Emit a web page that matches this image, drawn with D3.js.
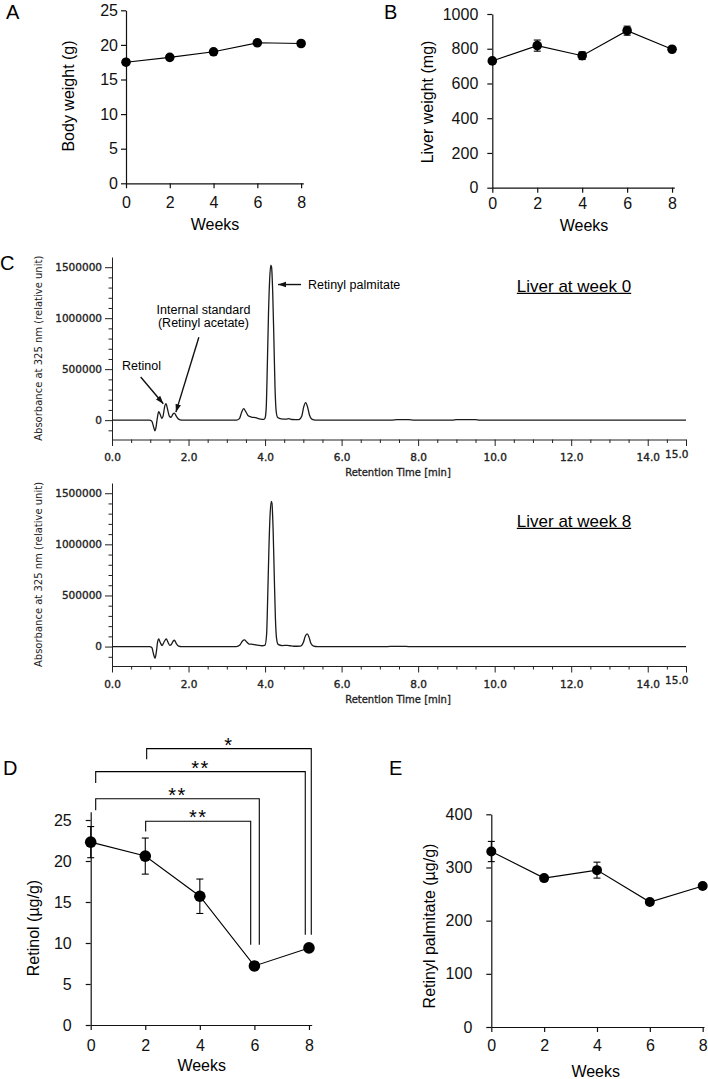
<!DOCTYPE html>
<meta charset="utf-8">
<script src="https://d3js.org/d3.v7.min.js"></script>
<style>
  body { margin: 0; background: #fff; }
  svg { display: block; }
</style>
<div id="figure"></div>
<script>
// ---- values ----
const weeks = [0, 2, 4, 6, 8];

const bodyWeight   = [17.5, 18.2, 19.0, 20.3, 20.2];
const bodyWeightSd = [0.3, 0.3, 0.3, 0.3, 0.3];
const liverWeight   = [730, 818, 760, 904, 797];
const liverWeightSd = [10, 32, 22, 26, 8];
const retinol   = [22.3, 20.6, 15.7, 7.2, 9.4];
const retinolSd = [1.9, 2.2, 2.1, 0.5, 0.2];
const palmitate   = [330, 280, 295, 235, 265];
const palmitateSd = [19, 5, 15, 4, 3];

const bodyTicks = [0, 5, 10, 15, 20, 25];
const liverTicks = [0, 200, 400, 600, 800, 1000];
const retinolTicks = [0, 5, 10, 15, 20, 25];
const palmitateTicks = [0, 100, 200, 300, 400];

// significance brackets in D
const sigFrom  = [2, 0, 0, 2];
const sigTo    = [6, 6, 8, 8];
const sigLabel = ["**", "**", "**", "*"];

// HPLC traces: [retention time (min), absorbance]
const chromWeek0 = [
  [0, 0], [0.98, 0], [1.04, -10000], [1.09, -70000], [1.12, -105000], [1.15, -70000],
  [1.18, 10000], [1.22, 82000], [1.26, 55000], [1.30, 18000], [1.34, 50000], [1.38, 140000],
  [1.41, 162000], [1.45, 110000], [1.50, 38000], [1.54, 28000], [1.59, 58000], [1.63, 68000],
  [1.68, 40000], [1.74, 10000], [1.82, 0], [3.25, 0], [3.33, 15000], [3.39, 80000],
  [3.44, 112000], [3.50, 80000], [3.56, 42000], [3.64, 30000], [3.75, 25000], [3.88, 10000],
  [3.97, 8000], [4.00, 20000], [4.03, 120000], [4.06, 550000], [4.09, 1050000], [4.12, 1380000],
  [4.15, 1520000], [4.17, 1500000], [4.20, 1250000], [4.23, 800000], [4.26, 320000], [4.29, 90000],
  [4.33, 25000], [4.42, 12000], [4.55, 10000], [4.62, 14000], [4.70, 6000], [4.88, 4000],
  [4.96, 40000], [5.01, 130000], [5.06, 172000], [5.11, 130000], [5.16, 50000], [5.22, 10000],
  [5.32, 0], [7.30, 0], [7.45, 4000], [7.75, 4000], [7.90, 0], [8.90, 0], [9.00, 4000],
  [9.50, 4000], [9.60, 0], [15.0, 0]
];
const chromWeek8 = [
  [0, 0], [0.98, 0], [1.04, -10000], [1.09, -80000], [1.125, -115000], [1.16, -50000],
  [1.19, 40000], [1.22, 75000], [1.26, 40000], [1.31, 10000], [1.36, 45000], [1.42, 75000],
  [1.46, 45000], [1.51, 12000], [1.55, 20000], [1.60, 55000], [1.63, 62000], [1.68, 30000],
  [1.74, 5000], [1.82, 0], [3.25, 0], [3.34, 15000], [3.41, 55000], [3.46, 65000],
  [3.52, 45000], [3.58, 25000], [3.68, 22000], [3.80, 15000], [3.92, 8000], [4.00, 15000],
  [4.04, 120000], [4.07, 500000], [4.10, 950000], [4.13, 1280000], [4.165, 1420000], [4.18, 1400000],
  [4.21, 1150000], [4.24, 700000], [4.27, 280000], [4.30, 80000], [4.34, 22000], [4.45, 10000],
  [4.58, 12000], [4.65, 8000], [4.75, 3000], [4.92, 5000], [5.00, 40000], [5.05, 100000],
  [5.10, 124000], [5.15, 90000], [5.20, 30000], [5.27, 5000], [5.37, 0], [7.20, 0],
  [7.35, 2500], [7.60, 2500], [7.75, 0], [15.0, 0]
];
const rtTicks = [0, 2, 4, 6, 8, 10, 12, 14, 15];
const absTicks = [0, 500000, 1000000, 1500000];

const sans = "'Liberation Sans', Arial, Helvetica, sans-serif";
const verd = "'DejaVu Sans', Verdana, sans-serif";

const svg = d3.select("#figure").append("svg")
    .attr("width", 708)
    .attr("height", 1079);

const defs = svg.append("defs");
defs.append("marker")
    .attr("id", "arrow")
    .attr("viewBox", "0 0 10 10")
    .attr("refX", 10).attr("refY", 5)
    .attr("markerWidth", 8).attr("markerHeight", 8)
    .attr("markerUnits", "userSpaceOnUse")
    .attr("orient", "auto")
  .append("path")
    .attr("d", "M0,1.5 L10,5 L0,8.5 z")
    .attr("fill", "#111");

function styleAxis(a, family, size, color) {
    a.attr("font-family", family).attr("font-size", size);
    a.selectAll("path,line").attr("stroke", color).attr("stroke-width", 1.2);
    a.selectAll("text").attr("fill", color);
}

function panelLetter(txt, x, y) {
    svg.append("text").attr("x", x).attr("y", y)
        .attr("font-family", sans).attr("font-size", 20)
        .text(txt);
}

// line plot over weeks with SD bars
function weekPanel(o) {
    const x = d3.scaleLinear().domain([0, o.xMax]).range([o.left, o.right]);
    const y = d3.scaleLinear().domain([0, o.yMax]).range([o.bottom, o.top]);
    const g = svg.append("g");

    const xa = g.append("g")
        .attr("transform", `translate(0,${o.bottom})`)
        .call(d3.axisBottom(x).tickValues(weeks).tickSize(5).tickPadding(o.xPad).tickSizeOuter(0));
    const ya = g.append("g")
        .attr("transform", `translate(${o.left},0)`)
        .call(d3.axisLeft(y).tickValues(o.ticks).tickSize(5).tickPadding(o.yPad)
            .tickFormat(d3.format("d")).tickSizeOuter(0));
    styleAxis(xa, sans, 16, "#111");
    styleAxis(ya, sans, 16, "#111");

    const pts = weeks.map((w, i) => ({w: w, v: o.values[i], sd: o.sd[i]}));

    g.append("path")
        .datum(pts)
        .attr("fill", "none")
        .attr("stroke", "#000")
        .attr("stroke-width", 1.1)
        .attr("d", d3.line().x(d => x(d.w)).y(d => y(d.v)));

    const eb = g.selectAll(".eb").data(pts).join("g").attr("class", "eb")
        .attr("stroke", "#000").attr("stroke-width", 1.1);
    eb.append("line")
        .attr("x1", d => x(d.w)).attr("x2", d => x(d.w))
        .attr("y1", d => y(d.v - d.sd)).attr("y2", d => y(d.v + d.sd));
    eb.append("line")
        .attr("x1", d => x(d.w) - 3.5).attr("x2", d => x(d.w) + 3.5)
        .attr("y1", d => y(d.v + d.sd)).attr("y2", d => y(d.v + d.sd));
    eb.append("line")
        .attr("x1", d => x(d.w) - 3.5).attr("x2", d => x(d.w) + 3.5)
        .attr("y1", d => y(d.v - d.sd)).attr("y2", d => y(d.v - d.sd));

    g.selectAll(".pt").data(pts).join("circle").attr("class", "pt")
        .attr("cx", d => x(d.w))
        .attr("cy", d => y(d.v))
        .attr("r", o.r)
        .attr("fill", "#000");

    g.append("text")
        .attr("x", o.xLabel[0]).attr("y", o.xLabel[1])
        .attr("text-anchor", "middle")
        .attr("font-family", sans).attr("font-size", 16)
        .text("Weeks");
    g.append("text")
        .attr("transform", `translate(${o.yLabel[0]},${o.yLabel[1]}) rotate(-90)`)
        .attr("text-anchor", "middle")
        .attr("dy", "0.35em")
        .attr("font-family", sans).attr("font-size", 16)
        .text(o.yTitle);

    return {x: x, y: y, g: g};
}

// chromatogram panel
function chromPanel(o) {
    const x = d3.scaleLinear().domain([0, 15]).range([112, 686]);
    const y = d3.scaleLinear().domain([-190000, 1600000]).range([o.axisY, o.topY]);
    const g = svg.append("g");

    const minorX = d3.range(0, 15, 0.5).filter(t => !rtTicks.includes(t));
    const xm = g.append("g")
        .attr("transform", `translate(0,${o.axisY})`)
        .call(d3.axisBottom(x).tickValues(minorX).tickSize(3.5).tickFormat("").tickSizeOuter(0));
    xm.select(".domain").remove();
    const xa = g.append("g")
        .attr("transform", `translate(0,${o.axisY})`)
        .call(d3.axisBottom(x).tickValues(rtTicks).tickSize(6.5).tickPadding(8)
            .tickFormat(d3.format(".1f")).tickSizeOuter(0));
    // last label sits a little higher and left of its tick
    xa.selectAll(".tick text").filter(d => d === 15)
        .attr("text-anchor", "end").attr("x", 2).attr("y", 11);

    const minorY = d3.range(-100000, 1500001, 100000).filter(t => !absTicks.includes(t));
    const ym = g.append("g")
        .attr("transform", `translate(112,0)`)
        .call(d3.axisLeft(y).tickValues(minorY).tickSize(3.5).tickFormat("").tickSizeOuter(0));
    ym.select(".domain").remove();
    const ya = g.append("g")
        .attr("transform", `translate(112,0)`)
        .call(d3.axisLeft(y).tickValues(absTicks).tickSize(7).tickPadding(3)
            .tickFormat(d3.format("d")).tickSizeOuter(0));

    [xm, xa, ym, ya].forEach(a => {
        styleAxis(a, verd, 10.5, "#222");
        a.selectAll("path,line").attr("stroke-width", 1);
        a.selectAll("text").attr("stroke", "#222").attr("stroke-width", 0.35);
    });

    g.append("path")
        .datum(o.trace)
        .attr("fill", "none")
        .attr("stroke", "#1a1a1a")
        .attr("stroke-width", 1.3)
        .attr("stroke-linejoin", "round")
        .attr("d", d3.line().x(d => x(d[0])).y(d => y(d[1])).curve(d3.curveMonotoneX));

    g.append("text")
        .attr("x", 398).attr("y", o.axisY + 36.5)
        .attr("text-anchor", "middle")
        .attr("font-family", verd).attr("font-size", 10)
        .attr("fill", "#222").attr("stroke", "#222").attr("stroke-width", 0.3)
        .text("Retention Time [min]");
    g.append("text")
        .attr("transform", `translate(38,${(o.axisY + o.topY) / 2}) rotate(-90)`)
        .attr("text-anchor", "middle")
        .attr("dy", "0.35em")
        .attr("font-family", verd).attr("font-size", 10)
        .attr("fill", "#222")
        .text("Absorbance at 325 nm (relative unit)");

    // sample title, underlined
    const t = g.append("text")
        .attr("x", 574).attr("y", o.titleY)
        .attr("text-anchor", "middle")
        .attr("font-family", sans).attr("font-size", 17)
        .text(o.title);
    const w = t.node().getComputedTextLength();
    g.append("line")
        .attr("x1", 574 - w / 2).attr("x2", 574 + w / 2)
        .attr("y1", o.titleY + 1.8).attr("y2", o.titleY + 1.8)
        .attr("stroke", "#000").attr("stroke-width", 1.2);

    return {x: x, y: y, g: g};
}

// ---- A ----
panelLetter("A", 6, 18.5);
weekPanel({
    left: 126, right: 303.3, top: 10.3, bottom: 183.3, xMax: 8.1, yMax: 25,
    ticks: bodyTicks, values: bodyWeight, sd: bodyWeightSd, r: 4.8,
    xPad: 8.5, yPad: 3, xLabel: [215, 230], yLabel: [68, 96], yTitle: "Body weight (g)"
});

// ---- B ----
panelLetter("B", 384, 18.5);
weekPanel({
    left: 492.3, right: 674.3, top: 14, bottom: 187.7, xMax: 8.1, yMax: 1000,
    ticks: liverTicks, values: liverWeight, sd: liverWeightSd, r: 4.8,
    xPad: 4.5, yPad: 9, xLabel: [584, 230.5], yLabel: [427, 102], yTitle: "Liver weight (mg)"
});

// ---- C ----
panelLetter("C", 0, 270);
const c0 = chromPanel({axisY: 439.5, topY: 257, trace: chromWeek0, title: "Liver at week 0", titleY: 291.5});
chromPanel({axisY: 666, topY: 483, trace: chromWeek8, title: "Liver at week 8", titleY: 526.5});

// peak annotations in the week 0 trace, placed in data units
const notes = c0.g.append("g").attr("font-family", sans).attr("font-size", 12.5).attr("fill", "#000");
notes.append("text").attr("x", c0.x(5.12)).attr("y", c0.y(1330000) + 4.5).text("Retinyl palmitate");
notes.append("text").attr("x", c0.x(2.39)).attr("y", c0.y(1040000)).attr("text-anchor", "middle").text("Internal standard");
notes.append("text").attr("x", c0.x(2.39)).attr("y", c0.y(912000)).attr("text-anchor", "middle").text("(Retinyl acetate)");
notes.append("text").attr("x", c0.x(0.77)).attr("y", c0.y(493500)).attr("text-anchor", "middle").text("Retinol");

const arrows = [
    [[4.94, 1330000], [4.34, 1330000]],
    [[2.27, 813000], [1.67, 78500]],
    [[0.75, 422700], [1.34, 161000]]
];
c0.g.selectAll(".arrow").data(arrows).join("line").attr("class", "arrow")
    .attr("x1", d => c0.x(d[0][0])).attr("y1", d => c0.y(d[0][1]))
    .attr("x2", d => c0.x(d[1][0])).attr("y2", d => c0.y(d[1][1]))
    .attr("stroke", "#111").attr("stroke-width", 1.4)
    .attr("marker-end", "url(#arrow)");

// ---- D ----
panelLetter("D", 3, 775);
const d = weekPanel({
    left: 90.7, right: 311.7, top: 811.8, bottom: 1025, xMax: 8.1, yMax: 26,
    ticks: retinolTicks, values: retinol, sd: retinolSd, r: 5.8,
    xPad: 10, yPad: 14, xLabel: [201.7, 1070.5], yLabel: [33.3, 928], yTitle: "Retinol (\u00b5g/g)"
});

// bracket geometry (levels in retinol units, leg offsets in px)
const bracketLevel = [24.85, 27.6, 30.9, 33.7];
const bracketLeftEnd = [23.6, 26.2, 29.5, 32.4];
const bracketRightEnd = [9.8, 9.8, 11.0, 11.0];
const bracketDx = [[0.4, -3.7], [5, 4.9], [5, -3.7], [1.4, 2.3]];

sigFrom.forEach((f, i) => {
    const xl = d.x(f) + bracketDx[i][0];
    const xr = d.x(sigTo[i]) + bracketDx[i][1];
    const yl = d.y(bracketLevel[i]);
    d.g.append("path")
        .attr("d", `M${xl},${d.y(bracketLeftEnd[i])}V${yl}H${xr}V${d.y(bracketRightEnd[i])}`)
        .attr("fill", "none").attr("stroke", "#000").attr("stroke-width", 1.1);
    d.g.append("text")
        .attr("x", (xl + xr) / 2).attr("y", yl + 3)
        .attr("text-anchor", "middle")
        .attr("font-family", sans).attr("font-size", 20)
        .attr("letter-spacing", 1.5)
        .text(sigLabel[i]);
});

// ---- E ----
panelLetter("E", 389, 775);
weekPanel({
    left: 491.3, right: 704, top: 814.3, bottom: 1027, xMax: 8.05, yMax: 400,
    ticks: palmitateTicks, values: palmitate, sd: palmitateSd, r: 5,
    xPad: 8, yPad: 14, xLabel: [595.7, 1077], yLabel: [429, 926], yTitle: "Retinyl palmitate (\u00b5g/g)"
});
</script>
